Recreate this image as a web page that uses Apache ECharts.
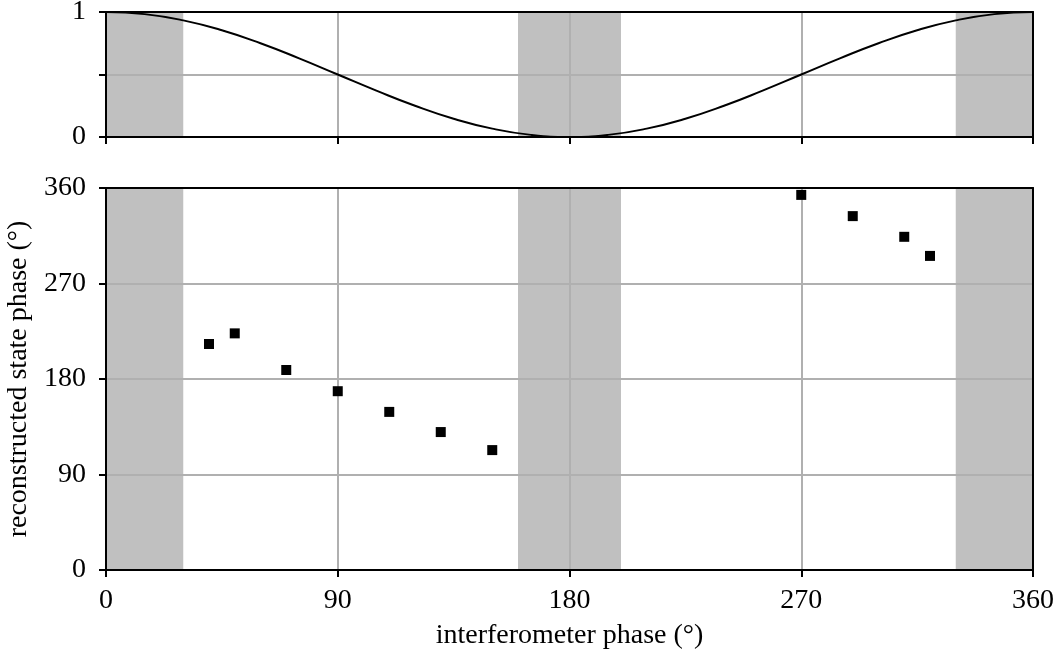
<!DOCTYPE html>
<html><head><meta charset="utf-8">
<script src="https://cdn.jsdelivr.net/npm/echarts@6/dist/echarts.min.js"></script>
<style>html,body{margin:0;padding:0;background:#fff}#c{width:1057px;height:655px}</style>
</head><body><div id="c"></div>
<script>
const curveX = [0,15,30,45,60,75,90,105,120,135,150,165,180,195,210,225,240,255,270,285,300,315,330,345,360];
const curveY = [1,0.983,0.933,0.854,0.75,0.629,0.5,0.371,0.25,0.146,0.067,0.017,0,0.017,0.067,0.146,0.25,0.371,0.5,0.629,0.75,0.854,0.933,0.983,1];
const ptsX = [40,50,70,90,110,130,150,270,290,310,320];
const ptsY = [213,223,188.5,168.5,149,130,113,353.5,333.5,314,296];
const bands = [[0,30],[160,200],[330,360]];

const FONT = 'Liberation Serif';
const FS = 28;
const chart = echarts.init(document.getElementById('c'));
const line = () => ({show:true, onZero:false, lineStyle:{color:'#000', width:2}});
const tick = () => ({show:true, inside:false, length:7, lineStyle:{color:'#000', width:2}});
const split = () => ({show:true, showMinLine:false, showMaxLine:false, lineStyle:{color:'#b0b0b0', width:2}});
const label = (fmt, m) => ({show:true, color:'#000', fontSize:FS, fontFamily:FONT, margin:m, formatter:fmt});
const bandArea = () => ({silent:true, itemStyle:{color:'#c0c0c0'}, data: bands.map(b=>[{xAxis:b[0]},{xAxis:b[1]}])});
const frameX = (g)=>({gridIndex:g, type:'value', min:0, max:360, position:'top', z:6, axisLine:line(), axisTick:{show:false}, axisLabel:{show:false}, splitLine:{show:false}});
const frameY = (g,max)=>({gridIndex:g, type:'value', min:0, max:max, position:'right', z:6, axisLine:line(), axisTick:{show:false}, axisLabel:{show:false}, splitLine:{show:false}});
const tickX = (g)=>({gridIndex:g, type:'value', min:0, max:360, interval:90, position:'bottom', z:6, axisLine:line(), axisTick:tick(), axisLabel:{show:false}, splitLine:{show:false}});
const tickY = (g,max,iv)=>({gridIndex:g, type:'value', min:0, max:max, interval:iv, position:'left', z:6, axisLine:line(), axisTick:tick(), axisLabel:{show:false}, splitLine:{show:false}});
chart.setOption({
  animation:false,
  grid:[
    {left:106, right:24, top:12, height:125, outerBoundsMode:'none'},
    {left:106, right:24, top:188, height:382, outerBoundsMode:'none'}
  ],
  xAxis:[
    {gridIndex:0, type:'value', min:0, max:360, interval:90, position:'bottom', z:5, axisLine:line(), axisTick:tick(), splitLine:split(), axisLabel:{show:false}},
    {gridIndex:1, type:'value', min:0, max:360, interval:90, position:'bottom', z:5, axisLine:line(), axisTick:{show:false}, splitLine:split(),
     axisLabel:label(v=>String(v), 17),
     name:'interferometer phase (°)', nameLocation:'middle', nameGap:52, nameTextStyle:{color:'#000', fontSize:FS, fontFamily:FONT}},
    frameX(0), frameX(1), tickX(1)
  ],
  yAxis:[
    {gridIndex:0, type:'value', min:0, max:1, interval:0.5, position:'left', z:5, axisLine:line(), axisTick:{show:false}, splitLine:split(),
     axisLabel:label(v=> (v===0||v===1)? String(v):'', 20)},
    {gridIndex:1, type:'value', min:0, max:360, interval:90, position:'left', z:5, axisLine:line(), axisTick:{show:false}, splitLine:split(),
     axisLabel:label(v=>String(v), 20),
     name:'reconstructed state phase (°)', nameLocation:'middle', nameGap:64, nameRotate:90, nameTextStyle:{color:'#000', fontSize:FS, fontFamily:FONT}},
    frameY(0,1), frameY(1,360), tickY(0,1,0.5), tickY(1,360,90)
  ],
  series:[
    {type:'line', xAxisIndex:0, yAxisIndex:0, data:[], markArea:bandArea(), z:1},
    {type:'line', xAxisIndex:1, yAxisIndex:1, data:[], markArea:bandArea(), z:1},
    {type:'line', xAxisIndex:0, yAxisIndex:0, data:curveX.map((x,i)=>[x,curveY[i]]), smooth:true, showSymbol:false,
     lineStyle:{color:'#000', width:2}, z:10},
    {type:'scatter', xAxisIndex:1, yAxisIndex:1, data:ptsX.map((x,i)=>[x,ptsY[i]]), symbol:'rect', symbolSize:10,
     itemStyle:{color:'#000', opacity:1}, z:10}
  ]
});
</script></body></html>
